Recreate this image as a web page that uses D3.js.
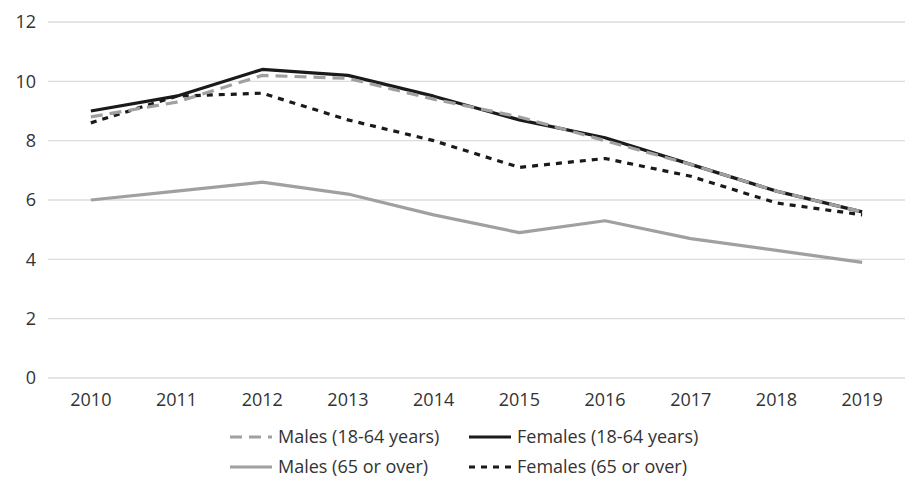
<!DOCTYPE html>
<html lang="en">
<head>
  <meta charset="UTF-8">
  <title>Rates by sex and age group, 2010-2019</title>
  <script src="https://d3js.org/d3.v7.min.js"></script>
  <style>
    body { margin: 0; background: #fff; }
    svg { font-family: "Open Sans", "Noto Sans", sans-serif; }
  </style>
</head>
<body>
  <svg id="chart"></svg>

  <script>
    // Data
    const years = ["2010", "2011", "2012", "2013", "2014", "2015", "2016", "2017", "2018", "2019"];
    const malesWorking   = [8.8, 9.3, 10.2, 10.1, 9.4, 8.8, 8.0, 7.2, 6.3, 5.6];
    const femalesWorking = [9.0, 9.5, 10.4, 10.2, 9.5, 8.7, 8.1, 7.2, 6.3, 5.6];
    const malesOlder     = [6.0, 6.3, 6.6, 6.2, 5.5, 4.9, 5.3, 4.7, 4.3, 3.9];
    const femalesOlder   = [8.6, 9.5, 9.6, 8.7, 8.0, 7.1, 7.4, 6.8, 5.9, 5.5];
    const yTicks = [0, 2, 4, 6, 8, 10, 12];

    const series = [
      { name: "Males (18-64 years)",   values: malesWorking,   color: "#a0a0a0", dash: "12,7" },
      { name: "Females (18-64 years)", values: femalesWorking, color: "#1a1a1a", dash: null },
      { name: "Males (65 or over)",    values: malesOlder,     color: "#a0a0a0", dash: null },
      { name: "Females (65 or over)",  values: femalesOlder,   color: "#1a1a1a", dash: "6,6" }
    ];

    const width = 905, height = 484;
    const margin = { top: 22, right: 0, bottom: 106, left: 48 };

    const svg = d3.select("#chart")
      .attr("width", width)
      .attr("height", height);

    const x = d3.scaleBand()
      .domain(years)
      .range([margin.left, width - margin.right]);

    const y = d3.scaleLinear()
      .domain([0, 12])
      .range([height - margin.bottom, margin.top]);

    // gridlines
    svg.append("g")
      .selectAll("line")
      .data(yTicks)
      .enter().append("line")
      .attr("x1", margin.left)
      .attr("x2", width - margin.right)
      .attr("y1", d => y(d))
      .attr("y2", d => y(d))
      .style("stroke", "#dcdcdc")
      .style("stroke-width", 1.3);

    // y labels
    svg.append("g")
      .selectAll("text")
      .data(yTicks)
      .enter().append("text")
      .attr("x", 36)
      .attr("y", d => y(d))
      .attr("dy", "0.35em")
      .attr("text-anchor", "end")
      .style("font-size", "18px")
      .style("fill", "#333")
      .text(d => d);

    // x labels
    svg.append("g")
      .selectAll("text")
      .data(years)
      .enter().append("text")
      .attr("x", d => x(d) + x.bandwidth() / 2)
      .attr("y", y(0) + 28)
      .attr("text-anchor", "middle")
      .style("font-size", "18px")
      .style("fill", "#333")
      .text(d => d);

    const line = d3.line()
      .x((d, i) => x(years[i]) + x.bandwidth() / 2)
      .y(d => y(d));

    // draw order: males 65+, females 65+, females 18-64, males 18-64 on top
    const drawOrder = [2, 3, 1, 0];
    svg.append("g")
      .selectAll("path")
      .data(drawOrder.map(i => series[i]))
      .enter().append("path")
      .attr("d", d => line(d.values))
      .style("fill", "none")
      .style("stroke", d => d.color)
      .style("stroke-width", 3.2)
      .style("stroke-linejoin", "round")
      .style("stroke-dasharray", d => d.dash);

    // legend
    const legendPos = [
      { x: 230, y: 437 }, { x: 469, y: 437 },
      { x: 230, y: 467 }, { x: 469, y: 467 }
    ];

    const legend = svg.append("g")
      .selectAll("g")
      .data(series)
      .enter().append("g")
      .attr("transform", (d, i) => `translate(${legendPos[i].x},${legendPos[i].y})`);

    legend.append("line")
      .attr("x1", 0)
      .attr("x2", 42)
      .style("stroke", d => d.color)
      .style("stroke-width", 3.2)
      .style("stroke-dasharray", d => d.dash);

    legend.append("text")
      .attr("x", 48)
      .attr("dy", "0.35em")
      .style("font-size", "18px")
      .style("fill", "#333")
      .text(d => d.name);
  </script>
</body>
</html>
